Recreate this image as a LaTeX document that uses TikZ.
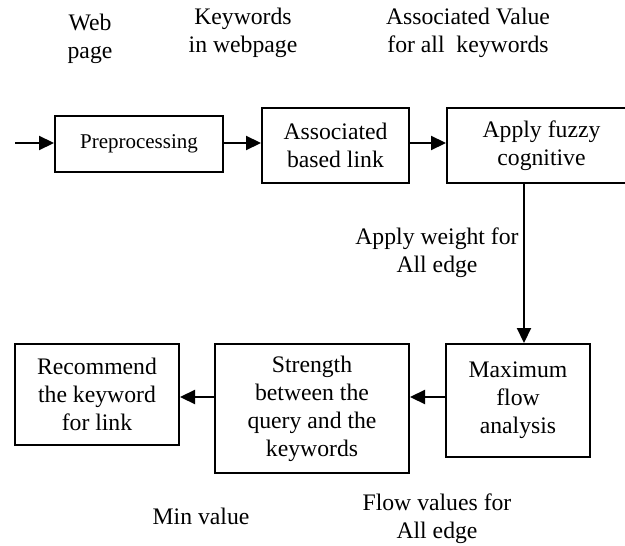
\documentclass[tikz,border=0pt]{standalone}
\usepackage{fontspec}
\setmainfont{Liberation Serif}
\usetikzlibrary{arrows.meta}
\tikzset{
  box/.style={draw, line width=2pt, inner sep=0pt, align=center, font=\fontsize{23.7}{28}\selectfont},
  lbl/.style={inner sep=0pt, align=center, font=\fontsize{23.7}{28}\selectfont},
  arr/.style={line width=2.2pt, -{Triangle[length=15pt,width=14pt]}},
}
\begin{document}
\begin{tikzpicture}[x=1pt,y=-1pt]
\useasboundingbox (0,0) rectangle (625,546);
% top labels
\node[lbl] (lweb) at (90,39) {Web\\page};
\node[lbl] (lkey) at (243,33) {Keywords\\in webpage};
\node[lbl] (lval) at (468,33) {Associated Value\\for all~ keywords};
% top row
\node[box, minimum width=168pt, minimum height=56pt, font=\fontsize{21}{25}\selectfont] (pre) at (139,144) {Preprocessing};
\node[box, minimum width=147pt, minimum height=75pt] (assoc) at (335.5,145.5) {Associated\\based link};
\node[box, minimum width=189pt, minimum height=75pt] (fuzzy) at (541.5,145.5) {Apply fuzzy\\cognitive};
% middle label
\node[lbl] (lw) at (437,253) {Apply weight for\\All edge};
% bottom row
\node[box, minimum width=144pt, minimum height=113pt] (maxf) at (518,400.5) {Maximum\\flow\\analysis};
\node[box, minimum width=194pt, minimum height=129pt] (str) at (312,408.5) {Strength\\between the\\query and the\\keywords};
\node[box, minimum width=164pt, minimum height=101pt] (rec) at (97,394.5) {Recommend\\the keyword\\for link};
% bottom labels
\node[lbl] (lmin) at (201,516) {Min value};
\node[lbl] (lflow) at (437,519) {Flow values for\\All edge};
% connectors
\coordinate (in) at (15,143);
\draw[arr] (in) -- (pre.west |- in);
\draw[arr] (pre.east |- in) -- (assoc.west |- in);
\draw[arr] (assoc.east |- in) -- (fuzzy.west |- in);
\coordinate (vx) at (524,0);
\draw[arr] (fuzzy.south -| vx) -- (maxf.north -| vx);
\coordinate (hy) at (0,397);
\draw[arr] (maxf.west |- hy) -- (str.east |- hy);
\draw[arr] (str.west |- hy) -- (rec.east |- hy);
\end{tikzpicture}
\end{document}
